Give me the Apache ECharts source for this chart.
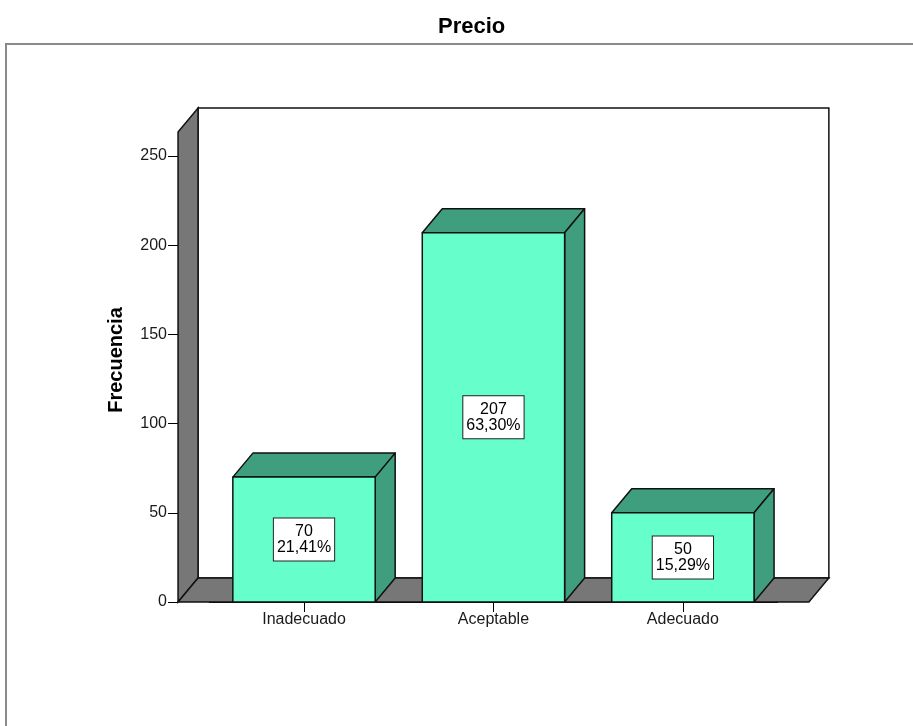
<!DOCTYPE html>
<html>
<head>
<meta charset="utf-8">
<script src="https://cdn.jsdelivr.net/npm/echarts@6/dist/echarts.min.js"></script>
<style>html,body{margin:0;padding:0;background:#fff;}#c{width:913px;height:726px;}</style>
</head>
<body>
<div id="c"></div>
<script>
var titleText = 'Precio';
var yAxisTitle = 'Frecuencia';
var categories = ['Inadecuado', 'Aceptable', 'Adecuado'];
var counts = [70, 207, 50];
var percents = [21.41, 63.30, 15.29];
var yTicks = [0, 50, 100, 150, 200, 250];

var FONT = "'Liberation Sans', Arial, sans-serif";
var DX = 20, DY = 24;           // 3D depth offset in px
var FRONT = '#66FFCC', SHADE = '#3F9E7E', WALL = '#777777', EDGE = '#111111';

function fmtPct(p) { return p.toFixed(2).replace('.', ',') + '%'; }

var chart = echarts.init(document.getElementById('c'), null, {renderer: 'canvas'});

var option = {
  animation: false,
  backgroundColor: '#fff',
  title: {
    text: titleText, left: 433, top: 11,
    textStyle: {fontFamily: FONT, fontSize: 22, fontWeight: 'bold', color: '#000'}
  },
  grid: {left: 209.3, right: 135.4, top: 156, bottom: 124},
  xAxis: {
    type: 'category', data: categories,
    axisLine: {show: true, lineStyle: {color: '#000', width: 1}},
    axisTick: {show: true, alignWithLabel: true, length: 10, lineStyle: {color: '#000'}},
    axisLabel: {fontFamily: FONT, fontSize: 16, color: '#1a1a1a', margin: 10}
  },
  yAxis: {
    type: 'value', min: yTicks[0], max: yTicks[yTicks.length - 1], interval: 50,
    offset: 31.3,
    splitLine: {show: false},
    axisLine: {show: true, lineStyle: {color: '#000', width: 1}},
    axisTick: {show: true, length: 10, lineStyle: {color: '#000'}},
    axisLabel: {fontFamily: FONT, fontSize: 16, color: '#1a1a1a', margin: 11, padding: [6, 0, 0, 0]}
  },
  graphic: [
    {type: 'rect', shape: {x: 6, y: 44, width: 920, height: 700}, style: {fill: 'none', stroke: '#8a8a8a', lineWidth: 2}, z: -10, silent: true},
    {type: 'text', x: 116, y: 360, rotation: Math.PI / 2,
      style: {text: yAxisTitle, fontFamily: FONT, fontSize: 20, fontWeight: 'bold', fill: '#000', align: 'center', verticalAlign: 'middle'}}
  ],
  series: [
    {
      type: 'custom', name: 'frame', clip: false, z: 1,
      data: [[0, 0]],
      renderItem: function (params, api) {
        var band = api.size([1, 0])[0];
        var b0 = api.coord([0, 0]);
        var b2 = api.coord([categories.length - 1, 0]);
        var topY = api.coord([0, yTicks[yTicks.length - 1]])[1] - DY;
        var L = b0[0] - band * 0.665, R = b2[0] + band * 0.665, B = b0[1];
        var st = function (f) { return {fill: f, stroke: EDGE, lineWidth: 1.5}; };
        return {
          type: 'group', children: [
            {type: 'polygon', shape: {points: [[L + DX, topY - DY], [R + DX, topY - DY], [R + DX, B - DY], [L + DX, B - DY]]}, style: st('#ffffff')},
            {type: 'polygon', shape: {points: [[L, topY], [L + DX, topY - DY], [L + DX, B - DY], [L, B]]}, style: st(WALL)},
            {type: 'polygon', shape: {points: [[L, B], [L + DX, B - DY], [R + DX, B - DY], [R, B]]}, style: st(WALL)}
          ]
        };
      }
    },
    {
      type: 'custom', name: 'Frecuencia', clip: false, z: 3,
      data: categories.map(function (c, i) { return [i, counts[i], percents[i]]; }),
      renderItem: function (params, api) {
        var i = api.value(0), v = api.value(1), p = api.value(2);
        var band = api.size([1, 0])[0];
        var hw = band * 0.3757;
        var t = api.coord([i, v]);
        var b = api.coord([i, 0]);
        var mid = api.coord([i, v / 2]);
        var x0 = t[0] - hw, x1 = t[0] + hw, ty = t[1], by = b[1];
        var st = function (f) { return {fill: f, stroke: EDGE, lineWidth: 1.5, lineJoin: 'round'}; };
        return {
          type: 'group', children: [
            {type: 'polygon', shape: {points: [[x0, ty], [x0 + DX, ty - DY], [x1 + DX, ty - DY], [x1, ty]]}, style: st(SHADE)},
            {type: 'polygon', shape: {points: [[x1, ty], [x1 + DX, ty - DY], [x1 + DX, by - DY], [x1, by]]}, style: st(SHADE)},
            {type: 'rect', shape: {x: x0, y: ty, width: x1 - x0, height: by - ty}, style: st(FRONT)},
            {type: 'text', x: mid[0], y: mid[1],
              style: {text: v + '\n' + fmtPct(p), fontFamily: FONT, fontSize: 16, lineHeight: 16,
                fill: '#000', align: 'center', verticalAlign: 'middle',
                backgroundColor: '#ffffff', borderColor: '#222', borderWidth: 1, padding: [5, 3, 5, 3]}}
          ]
        };
      }
    }
  ]
};
chart.setOption(option);
</script>
</body>
</html>
